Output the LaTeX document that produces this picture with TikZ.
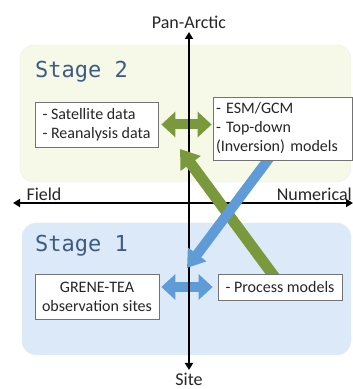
\documentclass[tikz,border=0pt]{standalone}
\usepackage{fontspec}
\setmainfont{Carlito}
\newfontfamily\stagefont{DejaVu Sans Mono}
\usetikzlibrary{arrows.meta,positioning}
\pgfdeclarelayer{background}
\pgfdeclarelayer{axes}
\pgfdeclarelayer{links}
\pgfsetlayers{background,axes,links,main}
\definecolor{stagetwo}{RGB}{246,248,232}
\definecolor{stageone}{RGB}{220,233,248}
\definecolor{leaf}{RGB}{122,152,60}
\definecolor{sky}{RGB}{94,155,215}
\definecolor{stageink}{RGB}{62,92,130}
\definecolor{ink}{RGB}{38,38,38}
\tikzstyle{stage box}=[rounded corners=14pt,draw=black!7]
\tikzstyle{data box}=[draw=black!55,line width=0.8pt,fill=white,inner sep=0pt,font=\fontsize{16}{19}\selectfont,text=ink]
\tikzstyle{stage label}=[anchor=west,inner sep=0pt,font=\stagefont\fontsize{22}{24}\selectfont,text=stageink]
\tikzstyle{axis label}=[inner sep=0pt,font=\fontsize{18}{20}\selectfont,text=ink]
\tikzstyle{axis}=[line width=2.4pt,{Triangle[length=7pt,width=8pt]}-{Triangle[length=7pt,width=8pt]}]
\tikzstyle{swap arrow}=[line width=10pt,{Triangle[length=14pt,width=25pt]}-{Triangle[length=14pt,width=25pt]}]
\tikzstyle{feed arrow}=[line width=11pt,-{Triangle[length=18pt,width=24pt]}]

\begin{document}
\begin{tikzpicture}[x=1pt,y=1pt]
    \useasboundingbox (0,0) rectangle (353,389);
    % Stage titles
    \node[stage label] (stage2) at (35,317) {Stage 2};
    \node[stage label] (stage1) at (35,143) {Stage 1};

    % Data and model boxes
    \node[data box,minimum width=123pt,minimum height=45pt,align=left] (sat) at (96.5,264.5) {- Satellite data\\- Reanalysis data};
    \node[data box,text width=133pt,inner xsep=3pt,minimum height=63pt,align=left] (esm) at (282.5,260.5) {- ESM/GCM\\- Top-down\\(Inversion) models};
    \node[data box,minimum width=124pt,minimum height=45pt,align=center] (grene) at (97,92.5) {GRENE-TEA\\observation sites};
    \node[data box,minimum width=124pt,minimum height=26pt] (proc) at (280,102) {- Process models};

    % Axis labels and ends
    \node[axis label] (pan) at (189,367) {Pan-Arctic};
    \node[axis label] (site) at (189,10) {Site};
    \node[axis label] (field) at (44,195) {Field};
    \node[axis label,anchor=east] (numerical) at (352,195) {Numerical};
    \coordinate (north end) at (189,357);
    \coordinate (south end) at (189,19);
    \coordinate (west end) at (13,186);
    \coordinate (east end) at (353,186);

    % Stage areas and exchanges
    \begin{pgfonlayer}{background}
        \path[stage box,fill=stagetwo] (20,207) rectangle (351,344);
        \path[stage box,fill=stageone] (22,34) rectangle (351,166);
        \draw[swap arrow,leaf,shorten <=3pt,shorten >=1pt] (sat.east) -- (sat.east -| esm.west);
        \draw[swap arrow,sky,shorten <=2pt,shorten >=5pt] (grene.east |- proc.west) -- (proc.west);
    \end{pgfonlayer}

    \begin{pgfonlayer}{axes}
        \draw[axis] (south end) -- (north end);
        \draw[axis] (west end) -- (east end);
    \end{pgfonlayer}

    % Links between the stages
    \coordinate (green tip) at (180,240);
    \coordinate (blue tip) at (187,121);
    \begin{pgfonlayer}{links}
        \draw[feed arrow,leaf] ([xshift=-5pt,yshift=-4pt]proc.north) -- (green tip);
        \draw[feed arrow,sky,line width=10pt,-{Triangle[length=17pt,width=22pt]}] ([xshift=-12pt,yshift=4pt]esm.south) -- (blue tip);
    \end{pgfonlayer}
\end{tikzpicture}
\end{document}
